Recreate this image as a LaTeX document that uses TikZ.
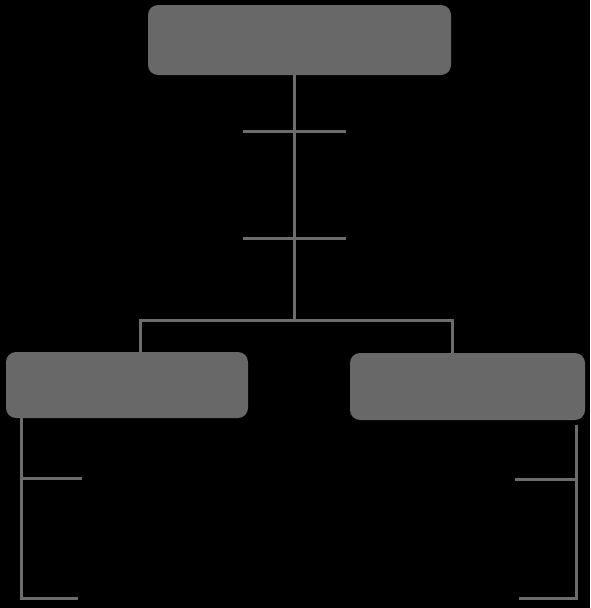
\documentclass[tikz,border=0pt]{standalone}
\begin{document}
\begin{tikzpicture}[x=1pt,y=-1pt,
  box/.style={draw=none,fill=boxgray,rounded corners=10pt,inner sep=0pt},
  link/.style={draw=linegray,line width=3pt}]
\definecolor{boxgray}{HTML}{686868}
\definecolor{linegray}{HTML}{6C6C6C}
\fill[black] (0,0) rectangle (590,608);
\useasboundingbox (0,0) rectangle (590,608);
\node[box,minimum width=303pt,minimum height=70pt] (top) at (299.5,40) {};
\node[box,minimum width=242pt,minimum height=66pt] (left) at (127,385) {};
\node[box,minimum width=235pt,minimum height=67pt] (right) at (467.5,386.5) {};
% trunk
\coordinate (j) at (294,320);
\coordinate (lj) at (140,320);
\coordinate (rj) at (452,320);
\draw[link] (top.south -| j) -- (j);
\draw[link] (left.north -| lj) -- (lj) -- (rj) -- (right.north -| rj);
% ticks on trunk
\coordinate (t1a) at (243,131); \coordinate (t1b) at (346,131);
\coordinate (t2a) at (243,238); \coordinate (t2b) at (346,238);
\draw[link] (t1a) -- (t1b);
\draw[link] (t2a) -- (t2b);
% left bracket
\coordinate (lb) at (21,598); \coordinate (lbe) at (78,598);
\coordinate (lt) at (21,478); \coordinate (lte) at (82,478);
\draw[link] (left.south -| lb) -- (lb) -- (lbe);
\draw[link] (lt) -- (lte);
% right bracket
\coordinate (rtop) at (576,425);
\coordinate (rb) at (576,598); \coordinate (rbe) at (519,598);
\coordinate (rt) at (576,479); \coordinate (rte) at (515,479);
\draw[link] (rtop) -- (rb) -- (rbe);
\draw[link] (rt) -- (rte);
\end{tikzpicture}
\end{document}
